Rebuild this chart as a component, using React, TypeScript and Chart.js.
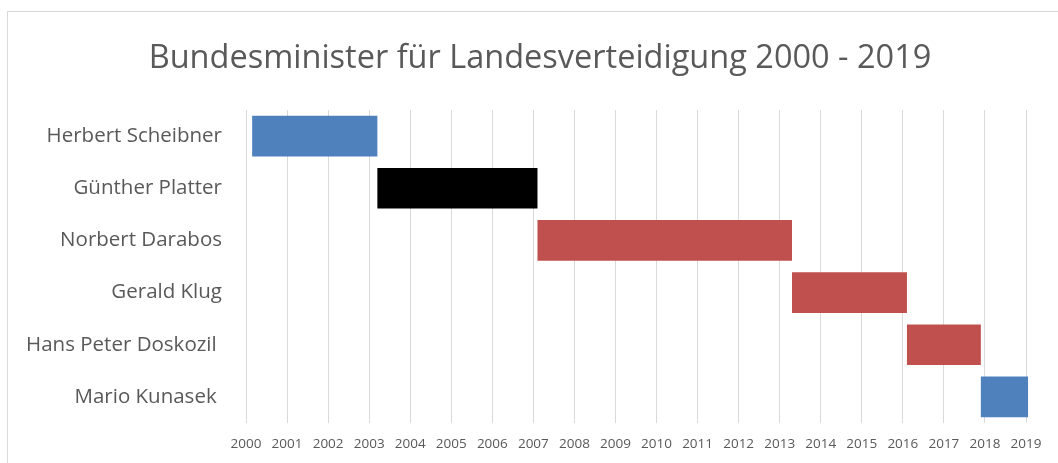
import React, { useEffect, useRef } from "react";
import { Chart, registerables } from "chart.js";

Chart.register(...registerables);

const titleText = "Bundesminister für Landesverteidigung 2000 - 2019";
const ministers = [
  "Herbert Scheibner",
  "Günther Platter",
  "Norbert Darabos",
  "Gerald Klug",
  "Hans Peter Doskozil ",
  "Mario Kunasek ",
];
const termStart = [2000.15, 2003.2, 2007.1, 2013.3, 2016.1, 2017.9];
const termEnd = [2003.2, 2007.1, 2013.3, 2016.1, 2017.9, 2019.05];
const barColors = ["#4F81BD", "#000000", "#C0504D", "#C0504D", "#C0504D", "#4F81BD"];
const yearMin = 2000;
const yearMax = 2019;

const FONT = "'Open Sans', Lato, sans-serif";
const TEXT = "#595959";

const titlePlugin = {
  id: "centeredTitle",
  afterDraw(chart: any) {
    const ctx = chart.ctx;
    ctx.save();
    ctx.font = `normal 32.5px ${FONT}`;
    ctx.fillStyle = TEXT;
    ctx.textAlign = "center";
    ctx.textBaseline = "middle";
    ctx.fillText(titleText, 540, 58.5);
    ctx.restore();
  },
};

export default function App() {
  const ref = useRef<HTMLCanvasElement>(null);
  useEffect(() => {
    if (!ref.current) return;
    const chart = new Chart(ref.current, {
      type: "bar",
      data: {
        labels: ministers,
        datasets: [
          {
            data: ministers.map((_, i) => [termStart[i], termEnd[i]]) as any,
            backgroundColor: barColors,
            borderWidth: 0,
            barPercentage: 0.78,
            categoryPercentage: 1,
            clip: false as any,
          },
        ],
      },
      plugins: [titlePlugin],
      options: {
        indexAxis: "y",
        animation: false,
        responsive: false,
        maintainAspectRatio: false,
        layout: { padding: { left: 0, right: 32, top: 110, bottom: 0 } },
        plugins: {
          legend: { display: false },
          tooltip: { enabled: false },
          title: { display: false },
        },
        scales: {
          x: {
            type: "linear",
            min: yearMin,
            max: yearMax,
            position: "bottom",
            afterFit: (s: any) => {
              s.height = 40;
            },
            ticks: {
              stepSize: 1,
              color: TEXT,
              padding: 13,
              font: { family: FONT, size: 13.5 },
              maxRotation: 0,
              autoSkip: false,
              callback: (v: any) => String(v),
            },
            grid: { color: "#d9d9d9", lineWidth: 1, drawTicks: false },
            border: { display: false },
          },
          y: {
            afterFit: (s: any) => {
              s.width = 246;
            },
            ticks: {
              color: TEXT,
              padding: 24,
              font: { family: FONT, size: 20.5 },
            },
            grid: { display: false, drawTicks: false },
            border: { display: false },
          },
        },
      },
    });
    return () => chart.destroy();
  }, []);
  return (
    <>
      <div
        style={{
          position: "fixed",
          left: 7,
          top: 11,
          width: 1200,
          height: 600,
          borderTop: "1px solid #d9d9d9",
          borderLeft: "1px solid #d9d9d9",
          boxSizing: "border-box",
        }}
      />
      <canvas
        ref={ref}
        width={1058}
        height={463}
        style={{ position: "fixed", left: 0, top: 0, width: 1058, height: 463 }}
      />
    </>
  );
}
